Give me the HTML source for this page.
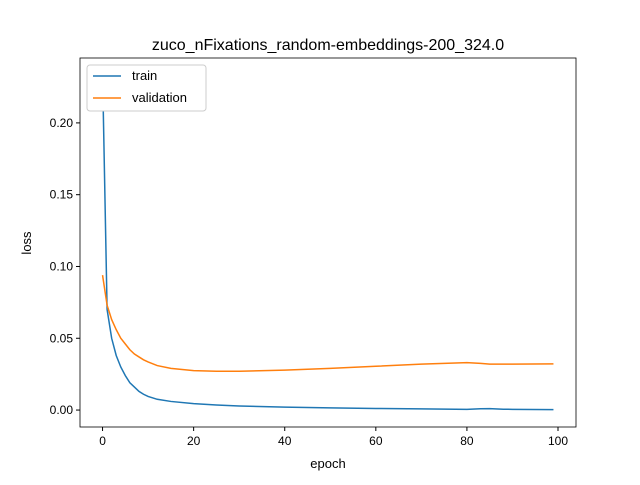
<!DOCTYPE html>
<html><head><meta charset="utf-8"><style>
body{margin:0;background:#fff}
svg{font-family:"Liberation Sans","DejaVu Sans",sans-serif}
</style></head><body>
<svg id="c" width="640" height="480" xmlns="http://www.w3.org/2000/svg">
<rect width="640" height="480" fill="#fff"/>
<text x="328" y="50" text-anchor="middle" font-size="16">zuco_nFixations_random-embeddings-200_324.0</text>
<g id="plot"></g>
<text x="328" y="468" text-anchor="middle" font-size="13">epoch</text>
<text x="31" y="243" text-anchor="middle" font-size="13" transform="rotate(-90 31 243)">loss</text>
</svg>
<script>
const epochs=[0,1,2,3,4,5,6,7,8,9,10,12,15,20,25,30,40,50,60,70,80,83,85,88,90,99];
const trainLoss=[0.235,0.07,0.05,0.038,0.03,0.024,0.019,0.016,0.013,0.011,0.0095,0.0075,0.006,0.0045,0.0035,0.0028,0.002,0.0015,0.0011,0.0008,0.0005,0.0009,0.001,0.0006,0.0005,0.0003];
const valLoss=[0.094,0.073,0.063,0.056,0.050,0.046,0.042,0.039,0.037,0.035,0.0335,0.031,0.029,0.0275,0.027,0.027,0.0278,0.029,0.0305,0.032,0.033,0.0325,0.032,0.032,0.032,0.0322];
const xTicks=[0,20,40,60,80,100];
const yTicks=[0,0.05,0.10,0.15,0.20];
const yTickLabels=["0.00","0.05","0.10","0.15","0.20"];
const L=80,R=576,T=58,B=427;
const xMin=-4.95,xMax=103.95,yMin=-0.0118,yMax=0.2452;
const sx=v=>L+(v-xMin)/(xMax-xMin)*(R-L);
const sy=v=>B-(v-yMin)/(yMax-yMin)*(B-T);
const NS="http://www.w3.org/2000/svg";
const g=document.getElementById('plot');
function mk(t,a){const e=document.createElementNS(NS,t);for(const k in a)e.setAttribute(k,a[k]);g.appendChild(e);return e;}
xTicks.forEach(v=>{
 const l=mk('line',{x1:sx(v),x2:sx(v),y1:B,y2:B+4,stroke:'#000'});
 
 
 const t=mk('text',{x:sx(v),y:B+18,'text-anchor':'middle','font-size':12});t.textContent=v;
 
 
});
yTicks.forEach((v,i)=>{
 const l=mk('line',{x1:L-4,x2:L,y1:sy(v),y2:sy(v),stroke:'#000'});
 
 
 const t=mk('text',{x:L-7,y:sy(v)+4,'text-anchor':'end','font-size':12});t.textContent=yTickLabels[i];
 
 
});
function line(vals,col,name){
 const p=mk('polyline',{points:epochs.map((e,i)=>sx(e)+','+sy(vals[i])).join(' '),fill:'none',stroke:col,'stroke-width':1.5});
 
 
}
line(trainLoss,'#1f77b4','train-line');
line(valLoss,'#ff7f0e','validation-line');
const fr=mk('rect',{x:L,y:T,width:R-L,height:B-T,fill:'none',stroke:'#000','stroke-width':0.8});


const lg=mk('rect',{x:87,y:65,width:119,height:46,fill:'#fff',stroke:'#ccc',rx:3});


[['train','#1f77b4',76],['validation','#ff7f0e',98]].forEach(([n,c,y])=>{
 const l=mk('line',{x1:93,x2:121,y1:y,y2:y,stroke:c,'stroke-width':1.5});
 
 
 const t=mk('text',{x:132,y:y+4,'font-size':13});t.textContent=n;
 
 
});
</script>
</body></html>
